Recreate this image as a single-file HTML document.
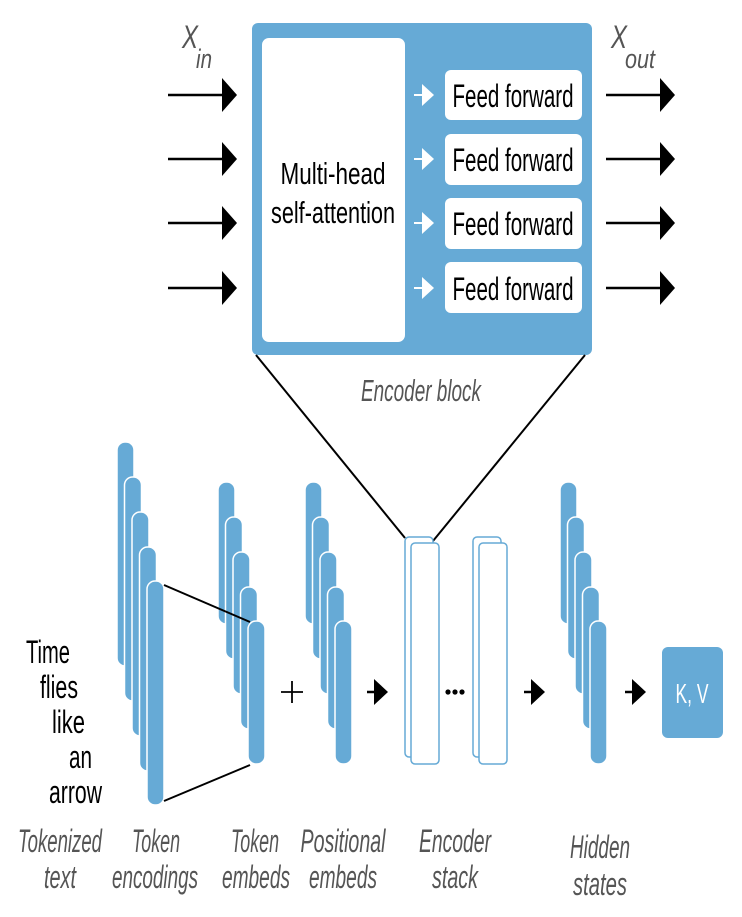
<!DOCTYPE html>
<html><head><meta charset="utf-8"><style>html,body{margin:0;padding:0;background:#fff}svg{display:block}</style></head>
<body>
<svg width="742" height="917" viewBox="0 0 742 917" xmlns="http://www.w3.org/2000/svg" font-family="Liberation Sans, sans-serif">
<defs>
<g id="arr"><line x1="0" y1="0" x2="56" y2="0" stroke="#000" stroke-width="2.5"/><polygon points="54,-17 69,0 54,17" fill="#000"/></g>
<g id="warr"><line x1="0" y1="0" x2="8" y2="0" stroke="#fff" stroke-width="2"/><polygon points="8,-11 20,0 8,11" fill="#fff"/></g>
<g id="sarr"><line x1="0" y1="0" x2="10" y2="0" stroke="#000" stroke-width="2.5"/><polygon points="7,-13 21,0 7,13" fill="#000"/></g>
</defs>
<rect x="252" y="23" width="340" height="332" rx="6" fill="#66aad6"/>
<rect x="262" y="38" width="143" height="304" rx="7" fill="#fff"/>
<text x="333" y="184" font-size="31" text-anchor="middle" textLength="105" lengthAdjust="spacingAndGlyphs">Multi-head</text>
<text x="333" y="223" font-size="31" text-anchor="middle" textLength="124" lengthAdjust="spacingAndGlyphs">self-attention</text>
<g>
<rect x="445" y="70" width="137" height="50" rx="6" fill="#fff"/>
<rect x="445" y="134" width="137" height="51" rx="6" fill="#fff"/>
<rect x="445" y="198" width="137" height="51" rx="6" fill="#fff"/>
<rect x="445" y="262" width="137" height="51" rx="6" fill="#fff"/>
<text x="513" y="107" font-size="32" text-anchor="middle" textLength="121" lengthAdjust="spacingAndGlyphs">Feed forward</text>
<text x="513" y="171" font-size="32" text-anchor="middle" textLength="121" lengthAdjust="spacingAndGlyphs">Feed forward</text>
<text x="513" y="235" font-size="32" text-anchor="middle" textLength="121" lengthAdjust="spacingAndGlyphs">Feed forward</text>
<text x="513" y="300" font-size="32" text-anchor="middle" textLength="121" lengthAdjust="spacingAndGlyphs">Feed forward</text>
</g>
<use href="#warr" x="414" y="95"/><use href="#warr" x="414" y="159"/><use href="#warr" x="414" y="223"/><use href="#warr" x="414" y="288"/>
<use href="#arr" x="168" y="95"/><use href="#arr" x="168" y="159"/><use href="#arr" x="168" y="223"/><use href="#arr" x="168" y="288"/>
<use href="#arr" x="606" y="95"/><use href="#arr" x="606" y="159"/><use href="#arr" x="606" y="223"/><use href="#arr" x="606" y="288"/>
<text x="182" y="48" font-size="32" font-style="italic" fill="#555" textLength="16" lengthAdjust="spacingAndGlyphs">X</text>
<text x="196" y="68" font-size="27" font-style="italic" fill="#555" textLength="16" lengthAdjust="spacingAndGlyphs">in</text>
<text x="611" y="48" font-size="32" font-style="italic" fill="#555" textLength="16" lengthAdjust="spacingAndGlyphs">X</text>
<text x="625" y="68" font-size="27" font-style="italic" fill="#555" textLength="30" lengthAdjust="spacingAndGlyphs">out</text>
<text x="421" y="401" font-size="31" font-style="italic" fill="#555" text-anchor="middle" textLength="120" lengthAdjust="spacingAndGlyphs">Encoder block</text>
<line x1="256" y1="355" x2="405" y2="538" stroke="#000" stroke-width="2"/>
<line x1="585" y1="355" x2="433" y2="541" stroke="#000" stroke-width="2"/>
<g fill="#66aad6" stroke="#fff" stroke-width="1.5">
<rect x="117" y="442" width="17" height="224" rx="8"/>
<rect x="124.5" y="477" width="17" height="224" rx="8"/>
<rect x="132" y="512" width="17" height="224" rx="8"/>
<rect x="139.5" y="547" width="17" height="224" rx="8"/>
<rect x="147" y="581" width="17" height="224" rx="8"/>
<rect x="218" y="482" width="17" height="142" rx="8"/>
<rect x="225.5" y="517" width="17" height="142" rx="8"/>
<rect x="233" y="552" width="17" height="142" rx="8"/>
<rect x="240.5" y="587" width="17" height="142" rx="8"/>
<rect x="248" y="621" width="17" height="143" rx="8"/>
<rect x="305" y="482" width="17" height="142" rx="8"/>
<rect x="312.5" y="517" width="17" height="142" rx="8"/>
<rect x="320" y="552" width="17" height="142" rx="8"/>
<rect x="327.5" y="587" width="17" height="142" rx="8"/>
<rect x="335" y="621" width="17" height="143" rx="8"/>
<rect x="560" y="482" width="17" height="142" rx="8"/>
<rect x="567.5" y="517" width="17" height="142" rx="8"/>
<rect x="575" y="552" width="17" height="142" rx="8"/>
<rect x="582.5" y="587" width="17" height="142" rx="8"/>
<rect x="590" y="621" width="17" height="143" rx="8"/>
</g>
<line x1="164" y1="585" x2="250" y2="622" stroke="#000" stroke-width="2"/>
<line x1="164" y1="801" x2="250" y2="765" stroke="#000" stroke-width="2"/>
<line x1="281" y1="692" x2="303" y2="692" stroke="#000" stroke-width="1.8"/>
<line x1="292" y1="681" x2="292" y2="703" stroke="#000" stroke-width="1.8"/>
<use href="#sarr" x="367" y="692"/><use href="#sarr" x="524" y="692"/><use href="#sarr" x="625" y="692"/>
<g fill="#fff" stroke="#66aad6" stroke-width="1.5">
<rect x="405" y="537" width="28" height="220" rx="4"/>
<rect x="411" y="543" width="28" height="221" rx="4"/>
<rect x="473" y="537" width="28" height="220" rx="4"/>
<rect x="479" y="543" width="28" height="221" rx="4"/>
</g>
<circle cx="448" cy="692" r="2.6"/><circle cx="455" cy="692" r="2.6"/><circle cx="462" cy="692" r="2.6"/>
<rect x="662" y="647" width="61" height="91" rx="6" fill="#66aad6"/>
<text x="692" y="703" font-size="28" fill="#fff" text-anchor="middle" textLength="33" lengthAdjust="spacingAndGlyphs">K, V</text>
<g font-size="32" text-anchor="end">
<text x="70" y="663" textLength="44" lengthAdjust="spacingAndGlyphs">Time</text>
<text x="78" y="698" textLength="38" lengthAdjust="spacingAndGlyphs">flies</text>
<text x="85" y="733" textLength="33" lengthAdjust="spacingAndGlyphs">like</text>
<text x="92" y="768" textLength="23" lengthAdjust="spacingAndGlyphs">an</text>
<text x="102" y="803" textLength="53" lengthAdjust="spacingAndGlyphs">arrow</text>
</g>
<g font-size="32" font-style="italic" fill="#555" text-anchor="middle">
<text x="60" y="852" textLength="84" lengthAdjust="spacingAndGlyphs">Tokenized</text>
<text x="60" y="888" textLength="32" lengthAdjust="spacingAndGlyphs">text</text>
<text x="156" y="852" textLength="48" lengthAdjust="spacingAndGlyphs">Token</text>
<text x="155" y="888" textLength="86" lengthAdjust="spacingAndGlyphs">encodings</text>
<text x="255" y="852" textLength="48" lengthAdjust="spacingAndGlyphs">Token</text>
<text x="256" y="888" textLength="68" lengthAdjust="spacingAndGlyphs">embeds</text>
<text x="343" y="852" textLength="85" lengthAdjust="spacingAndGlyphs">Positional</text>
<text x="343" y="888" textLength="68" lengthAdjust="spacingAndGlyphs">embeds</text>
<text x="455" y="852" textLength="72" lengthAdjust="spacingAndGlyphs">Encoder</text>
<text x="455" y="888" textLength="46" lengthAdjust="spacingAndGlyphs">stack</text>
<text x="600" y="858" textLength="60" lengthAdjust="spacingAndGlyphs">Hidden</text>
<text x="600" y="895" textLength="54" lengthAdjust="spacingAndGlyphs">states</text>
</g>
</svg>
</body></html>
